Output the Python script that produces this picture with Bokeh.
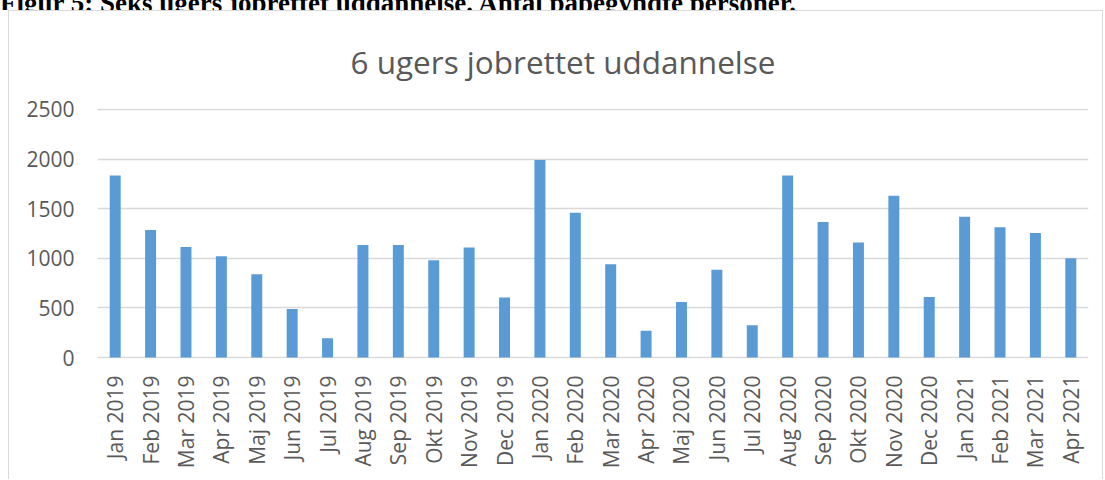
from bokeh.plotting import figure
from bokeh.models import Range1d, FactorRange, FixedTicker, Div
from bokeh.layouts import column
from bokeh.embed import file_html
from bokeh.resources import INLINE
import math

months = ["Jan 2019", "Feb 2019", "Mar 2019", "Apr 2019", "Maj 2019", "Jun 2019", "Jul 2019",
          "Aug 2019", "Sep 2019", "Okt 2019", "Nov 2019", "Dec 2019",
          "Jan 2020", "Feb 2020", "Mar 2020", "Apr 2020", "Maj 2020", "Jun 2020", "Jul 2020",
          "Aug 2020", "Sep 2020", "Okt 2020", "Nov 2020", "Dec 2020",
          "Jan 2021", "Feb 2021", "Mar 2021", "Apr 2021"]
values = [1835, 1285, 1115, 1020, 840, 490, 195, 1135, 1135, 980, 1110, 605,
          1990, 1460, 940, 270, 560, 885, 325, 1835, 1365, 1160, 1630, 610,
          1420, 1312, 1255, 1000]
y_ticks = [0, 500, 1000, 1500, 2000, 2500]
title_text = "6 ugers jobrettet uddannelse"
header_text = "Figur 5: Seks ugers jobrettet uddannelse. Antal påbegyndte personer."

FONT = "Open Sans"
GREY = "#595959"

header = Div(
    text=('<div style="margin-top:-19px; white-space:nowrap; font-family:\'Liberation Serif\', serif; '
          'font-weight:bold; font-size:27px; line-height:27px; color:#000;">' + header_text + '</div>'),
    width=1105, height=10, styles={"overflow": "hidden"}, margin=(0, 0, 0, 0))

p = figure(width=1095, height=469, output_backend="svg", toolbar_location=None,
           x_range=FactorRange(*months, range_padding=0),
           y_range=Range1d(-10, 2510),
           min_border_left=88, min_border_right=16, min_border_top=96, min_border_bottom=122,
           title=title_text, margin=(0, 0, 0, 8))
p.styles = {"border-top": "1px solid #d9d9d9", "border-left": "1px solid #d9d9d9",
            "border-right": "1px solid #d9d9d9"}

p.vbar(x=months, top=values, width=0.31, fill_color="#5b9bd5", line_color=None)

p.title.text_font = FONT
p.title.text_font_size = "31.5px"
p.title.text_font_style = "normal"
p.title.text_color = GREY
p.title.align = "left"
p.title.offset = 253
p.title.standoff = 52

p.outline_line_color = None
p.xgrid.grid_line_color = None
p.ygrid.grid_line_color = "#d9d9d9"
p.ygrid.grid_line_width = 1.5
p.yaxis.ticker = FixedTicker(ticks=y_ticks)

for ax in (p.xaxis, p.yaxis):
    ax.axis_line_color = None
    ax.major_tick_line_color = None
    ax.minor_tick_line_color = None
    ax.major_tick_out = 0
    ax.major_tick_in = 0
    ax.minor_tick_out = 0
    ax.major_label_text_font = FONT
    ax.major_label_text_font_size = "21px"
    ax.major_label_text_color = GREY

p.yaxis.major_label_standoff = 23
p.xaxis.major_label_standoff = 17
p.xaxis.major_label_orientation = math.pi / 2

layout = column(header, p, spacing=0)
open("out.html", "w").write(file_html(layout, INLINE))
